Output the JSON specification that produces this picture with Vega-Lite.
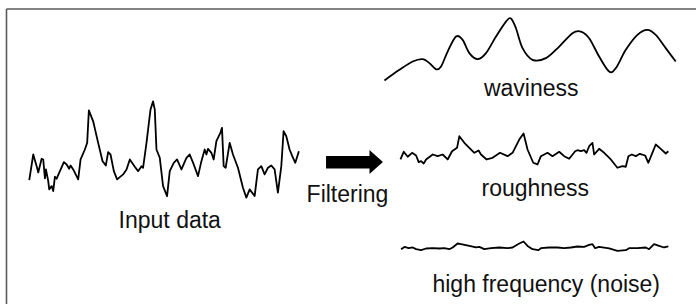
{
  "$schema": "https://vega.github.io/schema/vega-lite/v6.json",
  "width": 697,
  "height": 305,
  "autosize": {"type": "fit", "contains": "padding"},
  "padding": 0,
  "background": "white",
  "config": {"view": {"stroke": null}, "axis": {"disable": true}},
  "datasets": {
    "signals": [
      {"s":"input","x":29.3,"y":180.7},{"s":"input","x":33.3,"y":155},{"s":"input","x":36.7,"y":166.7},{"s":"input","x":38.3,"y":173},{"s":"input","x":41.7,"y":159.3},{"s":"input","x":43.3,"y":160},{"s":"input","x":46,"y":170},{"s":"input","x":45,"y":179},{"s":"input","x":48.3,"y":181.7},{"s":"input","x":49.3,"y":190},{"s":"input","x":51.7,"y":186.7},{"s":"input","x":53.3,"y":191.7},{"s":"input","x":55,"y":177.3},{"s":"input","x":56.7,"y":179.3},{"s":"input","x":60,"y":171.7},{"s":"input","x":64,"y":162.7},{"s":"input","x":66.7,"y":165},{"s":"input","x":69.3,"y":169.3},{"s":"input","x":70.7,"y":166},{"s":"input","x":73.3,"y":170},{"s":"input","x":78.3,"y":180},{"s":"input","x":80.7,"y":160},{"s":"input","x":85,"y":150},{"s":"input","x":87.3,"y":143.3},{"s":"input","x":89,"y":110.7},{"s":"input","x":93.3,"y":121.7},{"s":"input","x":98.3,"y":143.3},{"s":"input","x":102.7,"y":161.7},{"s":"input","x":106,"y":166},{"s":"input","x":108.3,"y":152.7},{"s":"input","x":110.7,"y":155},{"s":"input","x":114,"y":171.7},{"s":"input","x":117.3,"y":180},{"s":"input","x":123.3,"y":175},{"s":"input","x":126.7,"y":170},{"s":"input","x":130,"y":160},{"s":"input","x":135,"y":167.3},{"s":"input","x":138.3,"y":171.7},{"s":"input","x":141.7,"y":166.7},{"s":"input","x":143.3,"y":168.3},{"s":"input","x":146.7,"y":143.3},{"s":"input","x":150.7,"y":110},{"s":"input","x":153.3,"y":101.7},{"s":"input","x":155,"y":110},{"s":"input","x":156.7,"y":150},{"s":"input","x":160,"y":158.3},{"s":"input","x":163.3,"y":186.7},{"s":"input","x":167.3,"y":196.7},{"s":"input","x":170,"y":171.7},{"s":"input","x":174,"y":163.3},{"s":"input","x":177.3,"y":160},{"s":"input","x":181.7,"y":170},{"s":"input","x":186.7,"y":158.3},{"s":"input","x":190,"y":155},{"s":"input","x":194,"y":165},{"s":"input","x":198.3,"y":176.7},{"s":"input","x":201.7,"y":161.7},{"s":"input","x":205,"y":150},{"s":"input","x":206.7,"y":155},{"s":"input","x":208.3,"y":149.3},{"s":"input","x":211.7,"y":153.3},{"s":"input","x":214,"y":160},{"s":"input","x":216.7,"y":141.7},{"s":"input","x":220.7,"y":133.3},{"s":"input","x":222.3,"y":128.3},{"s":"input","x":224,"y":166.7},{"s":"input","x":226,"y":168.3},{"s":"input","x":230,"y":143.3},{"s":"input","x":233.3,"y":155},{"s":"input","x":238.3,"y":168.3},{"s":"input","x":243.3,"y":188.3},{"s":"input","x":246.7,"y":198.3},{"s":"input","x":250,"y":190},{"s":"input","x":255,"y":196.7},{"s":"input","x":258.3,"y":170},{"s":"input","x":261.7,"y":166.7},{"s":"input","x":265,"y":175},{"s":"input","x":268.3,"y":168.3},{"s":"input","x":271.7,"y":166},{"s":"input","x":275,"y":170},{"s":"input","x":278.3,"y":193.3},{"s":"input","x":281.7,"y":166.7},{"s":"input","x":284,"y":131.7},{"s":"input","x":286.7,"y":136.7},{"s":"input","x":290,"y":150},{"s":"input","x":292.7,"y":156.7},{"s":"input","x":295.7,"y":163.3},{"s":"input","x":299.3,"y":151.7},

      {"s":"rough","x":401,"y":160},{"s":"rough","x":404.3,"y":152.3},{"s":"rough","x":408.3,"y":157.3},{"s":"rough","x":412.7,"y":153.3},{"s":"rough","x":416.7,"y":156},{"s":"rough","x":419.3,"y":162.7},{"s":"rough","x":421.7,"y":161.7},{"s":"rough","x":424.3,"y":164},{"s":"rough","x":426.7,"y":160},{"s":"rough","x":433.3,"y":155},{"s":"rough","x":438.3,"y":156.7},{"s":"rough","x":443.3,"y":155},{"s":"rough","x":448.3,"y":160},{"s":"rough","x":452.7,"y":151.7},{"s":"rough","x":457.7,"y":148.3},{"s":"rough","x":460,"y":136.7},{"s":"rough","x":465,"y":143.3},{"s":"rough","x":475,"y":153.3},{"s":"rough","x":479.3,"y":151},{"s":"rough","x":481.7,"y":155},{"s":"rough","x":487.3,"y":160},{"s":"rough","x":493.3,"y":158.3},{"s":"rough","x":500.7,"y":153.3},{"s":"rough","x":508.3,"y":156.7},{"s":"rough","x":513.3,"y":153.3},{"s":"rough","x":520,"y":140},{"s":"rough","x":524.3,"y":134},{"s":"rough","x":528.3,"y":150},{"s":"rough","x":534,"y":163.3},{"s":"rough","x":538.3,"y":165},{"s":"rough","x":541.7,"y":156.7},{"s":"rough","x":548.3,"y":153.3},{"s":"rough","x":553.3,"y":156.7},{"s":"rough","x":560,"y":152.3},{"s":"rough","x":565,"y":156.7},{"s":"rough","x":570,"y":159.3},{"s":"rough","x":576,"y":151.7},{"s":"rough","x":578.3,"y":150.7},{"s":"rough","x":581.7,"y":151.7},{"s":"rough","x":585,"y":150.7},{"s":"rough","x":587.3,"y":153.3},{"s":"rough","x":590,"y":146.7},{"s":"rough","x":593.3,"y":143.3},{"s":"rough","x":595,"y":155},{"s":"rough","x":600,"y":149.3},{"s":"rough","x":605,"y":153.3},{"s":"rough","x":611.7,"y":160},{"s":"rough","x":618.3,"y":168.3},{"s":"rough","x":623.3,"y":166.7},{"s":"rough","x":626.7,"y":167.3},{"s":"rough","x":629.3,"y":156.7},{"s":"rough","x":632.7,"y":155},{"s":"rough","x":636.7,"y":156.7},{"s":"rough","x":640.7,"y":154.3},{"s":"rough","x":646,"y":156},{"s":"rough","x":649.3,"y":163.3},{"s":"rough","x":653.3,"y":153.3},{"s":"rough","x":656.7,"y":145},{"s":"rough","x":661.7,"y":149.3},{"s":"rough","x":666.7,"y":154},{"s":"rough","x":669.3,"y":151.7},

      {"s":"noise","x":401.7,"y":250},{"s":"noise","x":405,"y":247.7},{"s":"noise","x":409.3,"y":249},{"s":"noise","x":413.3,"y":248.3},{"s":"noise","x":416.7,"y":250},{"s":"noise","x":421.7,"y":251},{"s":"noise","x":426.7,"y":249.3},{"s":"noise","x":433.3,"y":249},{"s":"noise","x":440,"y":249.3},{"s":"noise","x":445,"y":249},{"s":"noise","x":450,"y":250},{"s":"noise","x":453.3,"y":248.3},{"s":"noise","x":458.3,"y":244.3},{"s":"noise","x":461.7,"y":245},{"s":"noise","x":470,"y":246.7},{"s":"noise","x":476.7,"y":248.3},{"s":"noise","x":480,"y":247.7},{"s":"noise","x":485,"y":250},{"s":"noise","x":491.7,"y":249},{"s":"noise","x":500,"y":248.3},{"s":"noise","x":508.3,"y":249},{"s":"noise","x":513.3,"y":248.3},{"s":"noise","x":520,"y":244.3},{"s":"noise","x":524.3,"y":242.3},{"s":"noise","x":528.3,"y":246.7},{"s":"noise","x":533.3,"y":250},{"s":"noise","x":539.3,"y":251},{"s":"noise","x":541.7,"y":249},{"s":"noise","x":550,"y":248.3},{"s":"noise","x":558.3,"y":248.3},{"s":"noise","x":565,"y":249},{"s":"noise","x":571.7,"y":248.3},{"s":"noise","x":578.3,"y":247.3},{"s":"noise","x":585,"y":247.7},{"s":"noise","x":590,"y":245.7},{"s":"noise","x":593.3,"y":245},{"s":"noise","x":596,"y":249},{"s":"noise","x":600,"y":247.7},{"s":"noise","x":610,"y":249.3},{"s":"noise","x":618.3,"y":251.7},{"s":"noise","x":626.7,"y":251},{"s":"noise","x":630,"y":249},{"s":"noise","x":638.3,"y":249},{"s":"noise","x":646.7,"y":248.3},{"s":"noise","x":650,"y":250},{"s":"noise","x":655,"y":245},{"s":"noise","x":660,"y":246.7},{"s":"noise","x":665,"y":248.3},{"s":"noise","x":669.3,"y":247.3}
    ],
    "wavy": [
      {"x":385,"y":80.7},{"x":400,"y":70},{"x":413.3,"y":61.7},{"x":423.3,"y":59.3},{"x":430,"y":63.3},{"x":436.7,"y":69.5},{"x":441.7,"y":66.7},{"x":448.3,"y":51.7},{"x":456.7,"y":36.7},{"x":463.3,"y":40},{"x":470,"y":53.3},{"x":478.3,"y":59.3},{"x":486.7,"y":53.3},{"x":496.7,"y":36.7},{"x":506.7,"y":21.7},{"x":511.7,"y":18.5},{"x":516.7,"y":28.3},{"x":523.3,"y":48.3},{"x":533.3,"y":60},{"x":546.7,"y":58.3},{"x":560,"y":46.7},{"x":573.3,"y":33.3},{"x":581.7,"y":31.7},{"x":590,"y":38.3},{"x":600,"y":56.7},{"x":610,"y":71.7},{"x":616.7,"y":68.3},{"x":626.7,"y":50},{"x":638.3,"y":35},{"x":648.3,"y":30},{"x":656.7,"y":35},{"x":666.7,"y":48.3},{"x":676.7,"y":61.7}
    ],
    "border": [
      {"x":6.5,"y":9,"x2":697,"y2":9},
      {"x":6.5,"y":9,"x2":6.5,"y2":305}
    ],
    "arrowBody": [{"x":326.5,"x2":371,"y":156.5,"y2":169}],
    "arrowHead": [{"x":370,"y":150.5,"y2":174.5},{"x":383.5,"y":162.5,"y2":162.5}],
    "labels": [
      {"t":"Input data","x":170,"y":229},
      {"t":"Filtering","x":348,"y":203},
      {"t":"waviness","x":532,"y":96},
      {"t":"roughness","x":536,"y":197},
      {"t":"high frequency (noise)","x":547,"y":293}
    ]
  },
  "layer": [
    {
      "data": {"name": "border"},
      "mark": {"type": "rule", "color": "#5a5a5a", "strokeWidth": 1.6},
      "encoding": {
        "x": {"field": "x", "type": "quantitative", "scale": {"domain": [0, 697], "nice": false, "zero": false}},
        "y": {"field": "y", "type": "quantitative", "scale": {"domain": [0, 305], "nice": false, "zero": false, "reverse": true}},
        "x2": {"field": "x2"},
        "y2": {"field": "y2"}
      }
    },
    {
      "data": {"name": "signals"},
      "mark": {"type": "line", "color": "black", "strokeWidth": 1.8, "strokeJoin": "round"},
      "encoding": {
        "x": {"field": "x", "type": "quantitative"},
        "y": {"field": "y", "type": "quantitative"},
        "detail": {"field": "s"},
        "order": {"field": "x", "type": "quantitative"}
      }
    },
    {
      "data": {"name": "wavy"},
      "mark": {"type": "line", "color": "black", "strokeWidth": 1.8, "interpolate": "cardinal"},
      "encoding": {
        "x": {"field": "x", "type": "quantitative"},
        "y": {"field": "y", "type": "quantitative"}
      }
    },
    {
      "data": {"name": "arrowBody"},
      "mark": {"type": "rect", "color": "black"},
      "encoding": {
        "x": {"field": "x", "type": "quantitative"},
        "x2": {"field": "x2"},
        "y": {"field": "y", "type": "quantitative"},
        "y2": {"field": "y2"}
      }
    },
    {
      "data": {"name": "arrowHead"},
      "mark": {"type": "area", "color": "black"},
      "encoding": {
        "x": {"field": "x", "type": "quantitative"},
        "y": {"field": "y", "type": "quantitative"},
        "y2": {"field": "y2"}
      }
    },
    {
      "data": {"name": "labels"},
      "mark": {"type": "text", "font": "Liberation Sans", "fontSize": 23, "color": "#111", "align": "center", "baseline": "alphabetic"},
      "encoding": {
        "x": {"field": "x", "type": "quantitative"},
        "y": {"field": "y", "type": "quantitative"},
        "text": {"field": "t"}
      }
    }
  ]
}
